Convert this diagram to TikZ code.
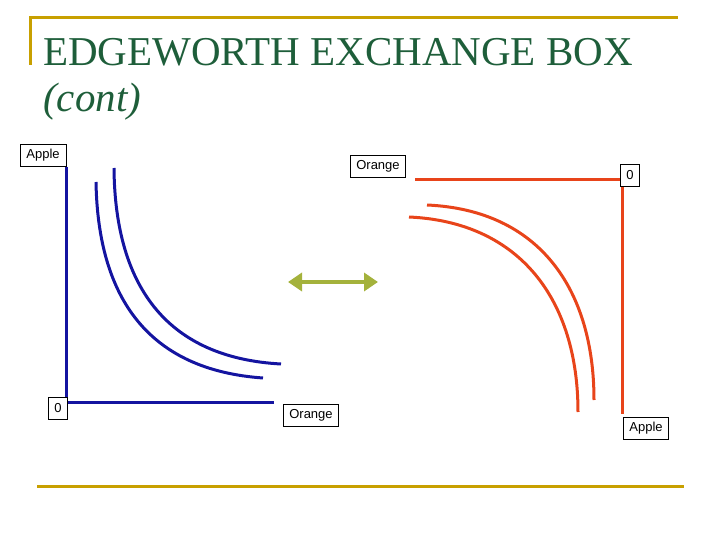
\documentclass[tikz,border=0pt]{standalone}
\usepackage{fontspec}
\setmainfont{Liberation Serif}
\setsansfont{Liberation Sans}
\usetikzlibrary{arrows.meta}
\definecolor{gold}{HTML}{C8A000}
\definecolor{ttl}{HTML}{1E5E3A}
\definecolor{bl}{HTML}{1414A0}
\definecolor{org}{HTML}{E8441A}
\definecolor{arr}{HTML}{A4B23C}
\begin{document}
\begin{tikzpicture}[x=1pt,y=-1pt,
  lbl/.style={draw=black,line width=0.6pt,fill=white,font=\sffamily\fontsize{13}{15}\selectfont,inner xsep=6pt,inner ysep=3pt,minimum height=22pt,minimum width=19pt},
  bline/.style={bl,line width=3pt},
  oline/.style={org,line width=3pt}]
\useasboundingbox (0,0) rectangle (720,540);
\draw[gold,line width=3pt] (30,65) -- (30,18) -- (678,18);
\draw[gold,line width=3pt] (37,486) -- (684,486);
\node[anchor=west,text=ttl,font=\fontsize{41}{46}\selectfont,inner sep=0] (t1) at (43,52) {EDGEWORTH EXCHANGE BOX};
\node[anchor=west,text=ttl,font=\itshape\fontsize{41}{46}\selectfont,inner sep=0] (t2) at (43,102) {(cont)};
% blue
\coordinate (bo) at (66,402);
\coordinate (by) at (66,167);
\coordinate (bx) at (274,402);
\draw[bline] (by) -- (bo) -- (bx);
\node[lbl,minimum width=46pt] (ba) at (43,155) {Apple};
\node[lbl] (b0) at (58,408) {0};
\node[lbl] (bor) at (311,415) {Orange};
\coordinate (c1s) at (96,182); \coordinate (c1e) at (263,378);
\coordinate (c2s) at (114,168); \coordinate (c2e) at (281,364);
\draw[bline] (c1s) .. controls (98,300) and (150,370) .. (c1e);
\draw[bline] (c2s) .. controls (115,290) and (170,358) .. (c2e);
% orange
\coordinate (oo) at (622,180);
\coordinate (ox) at (415,180);
\coordinate (oy) at (622,414);
\draw[oline] (ox) -- (oo) -- (oy);
\node[lbl] (oor) at (378,166) {Orange};
\node[lbl] (o0) at (630,175) {0};
\node[lbl] (oa) at (646,428) {Apple};
\coordinate (d1s) at (427,205); \coordinate (d1e) at (594,400);
\coordinate (d2s) at (409,217); \coordinate (d2e) at (578,412);
\draw[oline] (d1s) .. controls (540,210) and (594,290) .. (d1e);
\draw[oline] (d2s) .. controls (520,222) and (578,300) .. (d2e);
% arrow
\coordinate (al) at (288,282);
\coordinate (ar) at (378,282);
\draw[arr,line width=4.5pt,{Triangle[length=14pt,width=18pt]}-{Triangle[length=14pt,width=18pt]}] (al) -- (ar);
\end{tikzpicture}
\end{document}
